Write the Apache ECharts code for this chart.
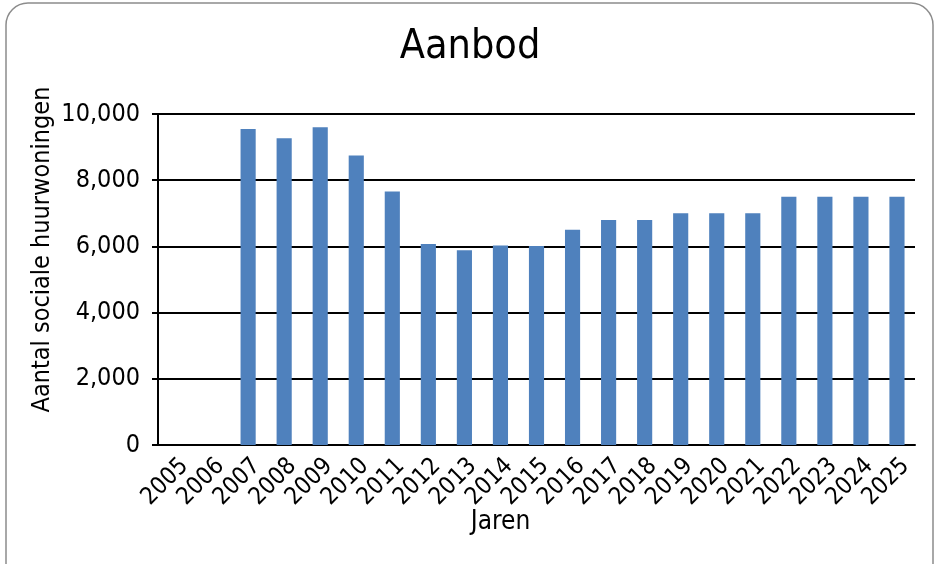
<!DOCTYPE html>
<html>
<head>
<meta charset="utf-8">
<script src="https://cdn.jsdelivr.net/npm/echarts@6/dist/echarts.min.js"></script>
<style>
html,body{margin:0;padding:0;background:#fff;}
#chart{width:940px;height:564px;}
</style>
</head>
<body>
<div id="chart"></div>
<script>
// Jaarlijks aanbod van sociale huurwoningen
const years = ['2005','2006','2007','2008','2009','2010','2011','2012','2013','2014','2015',
  '2016','2017','2018','2019','2020','2021','2022','2023','2024','2025'];
const aanbod = [null, null, 9550, 9270, 9600, 8750, 7660, 6070, 5880, 6030, 6010,
  6500, 6800, 6800, 7000, 7000, 7000, 7500, 7500, 7500, 7500];
const yTicks = [0, 2000, 4000, 6000, 8000, 10000];

const FONT = '"DejaVu Sans Condensed", "Liberation Sans Narrow", "DejaVu Sans", sans-serif';
const chart = echarts.init(document.getElementById('chart'), null, {renderer: 'canvas'});

chart.setOption({
  backgroundColor: '#fff',
  animation: false,
  title: {
    text: 'Aanbod',
    left: 'center',
    top: 22,
    textStyle: {fontFamily: FONT, fontSize: 41, fontWeight: 'normal', color: '#000'}
  },
  graphic: [{
    type: 'rect',
    shape: {x: 6, y: 3, width: 927, height: 620, r: 22},
    style: {fill: 'none', stroke: '#8c8c8c', lineWidth: 1.5},
    silent: true
  }],
  grid: {left: 158, right: 25, top: 114, bottom: 119},
  xAxis: {
    type: 'category',
    data: years,
    name: 'Jaren',
    nameLocation: 'middle',
    nameGap: 64,
    nameMoveOverlap: false,
    nameTextStyle: {fontFamily: FONT, fontSize: 26, color: '#000', padding: [0, 72, 0, 0]},
    axisLine: {lineStyle: {color: '#000', width: 2}},
    axisTick: {show: false},
    axisLabel: {
      interval: 0, rotate: 45, fontFamily: FONT, fontSize: 24, color: '#000',
      margin: 9, verticalAlign: 'top'
    }
  },
  yAxis: {
    type: 'value',
    min: 0, max: 10000, interval: 2000,
    name: 'Aantal sociale huurwoningen',
    nameLocation: 'middle',
    nameGap: 103,
    nameMoveOverlap: false,
    nameTextStyle: {fontFamily: FONT, fontSize: 25, color: '#000', padding: [0, 0, 0, 60]},
    axisLine: {show: true, lineStyle: {color: '#000', width: 2}},
    axisTick: {show: true, length: 6, lineStyle: {color: '#000', width: 2}},
    splitLine: {lineStyle: {color: '#000', width: 2}},
    axisLabel: {
      fontFamily: FONT, fontSize: 25, color: '#000', margin: 18,
      formatter: v => yTicks.includes(v) ? v.toLocaleString('en-US') : ''
    }
  },
  series: [{
    type: 'bar',
    data: aanbod,
    barWidth: '42%',
    itemStyle: {color: '#4f81bd'}
  }]
});
</script>
</body>
</html>
